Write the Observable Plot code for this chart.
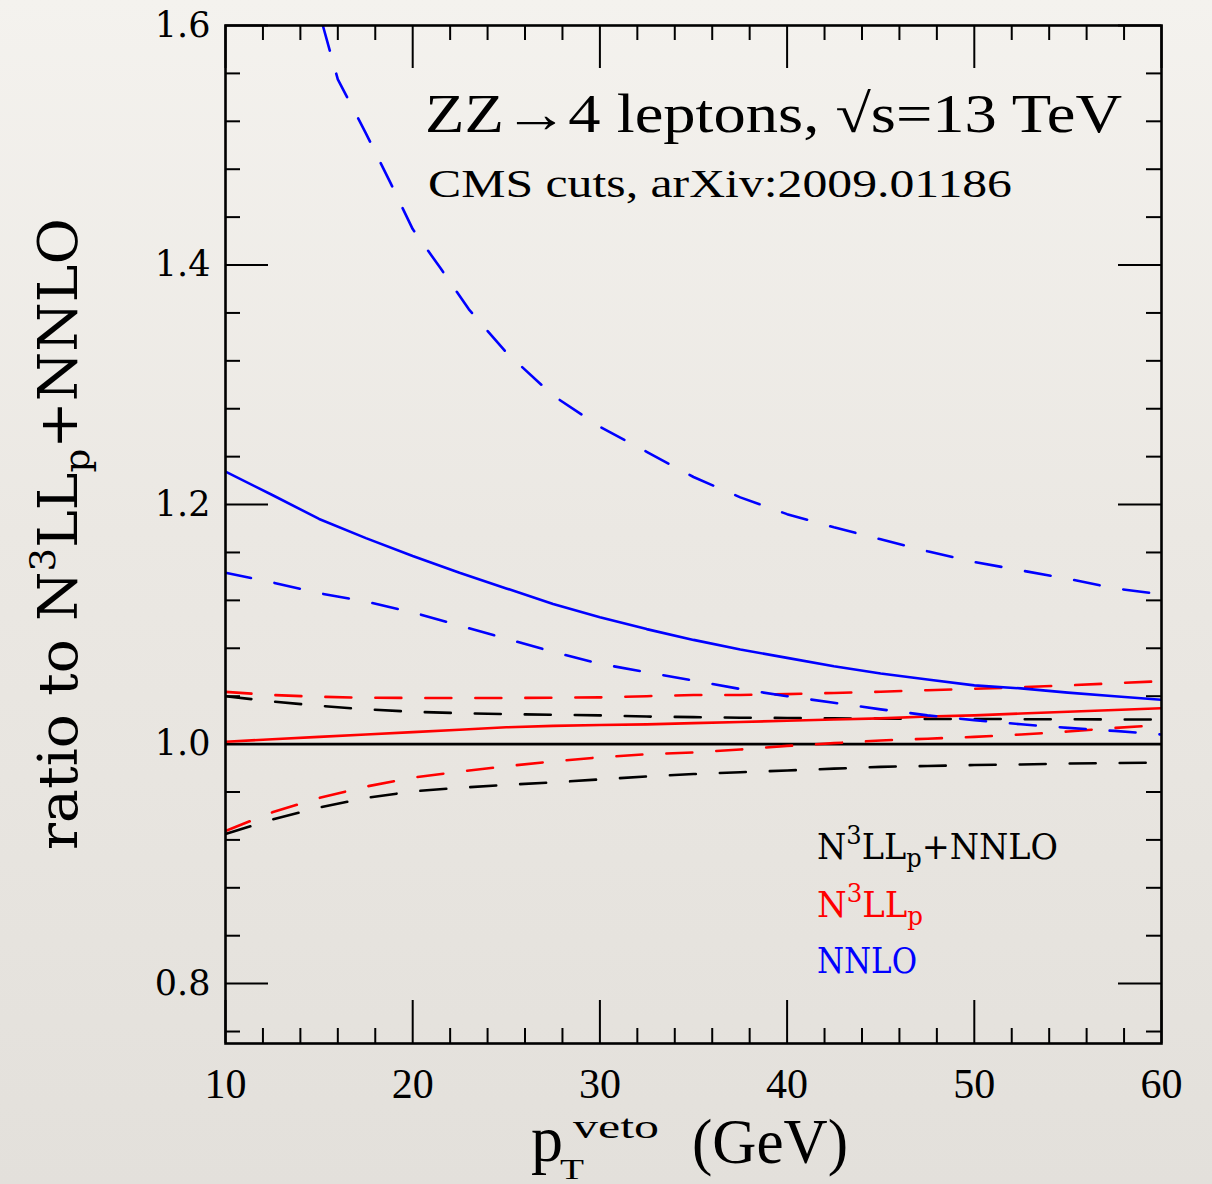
<!DOCTYPE html>
<html>
<head>
<meta charset="utf-8">
<script src="https://cdn.jsdelivr.net/npm/d3@7"></script>
<script src="https://cdn.jsdelivr.net/npm/@observablehq/plot@0.6"></script>
<style>
  html, body { margin: 0; padding: 0; }
  body { width: 1212px; height: 1184px; overflow: hidden;
         background: linear-gradient(to bottom, #f4f2ee 0%, #ebe8e3 45%, #e3e0db 100%); }
  #chart svg { display: block; }
</style>
</head>
<body>
<div id="chart"></div>
<script>
// ---------------- data ----------------
const xGrid = [10, 12.5, 15, 17.5, 20, 22.5, 25, 27.5, 30, 32.5, 35, 37.5, 40, 42.5, 45, 47.5, 50, 52.5, 55, 57.5, 60];

// N3LLp+NNLO (black): central = reference (ratio 1), band edges dashed
const combX = [10, 60];
const combCentral = [1.0, 1.0];
const combUp   = [1.040, 1.0355, 1.032, 1.029, 1.027, 1.0258, 1.025, 1.0245, 1.024, 1.023, 1.0225, 1.022, 1.0218, 1.0215, 1.0213, 1.021, 1.021, 1.0208, 1.0207, 1.0206, 1.0205];
const combDown = [0.925, 0.937, 0.947, 0.955, 0.9605, 0.9635, 0.966, 0.968, 0.9705, 0.973, 0.975, 0.9765, 0.978, 0.9795, 0.981, 0.9817, 0.9825, 0.983, 0.9838, 0.9842, 0.9845];

// N3LLp (red)
const resCentral = [1.002, 1.004, 1.006, 1.008, 1.010, 1.012, 1.014, 1.0152, 1.016, 1.0165, 1.0175, 1.0185, 1.0195, 1.0205, 1.0215, 1.023, 1.024, 1.0255, 1.027, 1.0285, 1.030];
const resUp      = [1.0436, 1.041, 1.0395, 1.0387, 1.0385, 1.0385, 1.0385, 1.0387, 1.039, 1.040, 1.041, 1.041, 1.0417, 1.0427, 1.0437, 1.045, 1.0462, 1.0475, 1.049, 1.0508, 1.0525];
const resDown    = [0.9275, 0.943, 0.955, 0.9645, 0.972, 0.977, 0.9815, 0.9855, 0.989, 0.9915, 0.993, 0.9955, 0.9985, 1.0008, 1.003, 1.0045, 1.006, 1.008, 1.0105, 1.0135, 1.016];

// NNLO (blue)
const nnloCentral = [1.2275, 1.208, 1.188, 1.172, 1.157, 1.143, 1.130, 1.117, 1.106, 1.096, 1.087, 1.079, 1.072, 1.065, 1.059, 1.054, 1.049, 1.0465, 1.043, 1.040, 1.037];
const nnloDown    = [1.143, 1.135, 1.126, 1.119, 1.110, 1.099, 1.088, 1.077, 1.067, 1.060, 1.053, 1.046, 1.040, 1.0345, 1.029, 1.024, 1.020, 1.0165, 1.0135, 1.011, 1.008];
const nnloUpX     = [15.2, 16, 17.5, 18.8, 20, 21.5, 23, 25, 27.5, 30, 32.5, 35, 37.5, 40, 42.5, 45, 47.5, 50, 52.5, 55, 57.5, 60];
const nnloUp      = [1.600, 1.555, 1.510, 1.469, 1.430, 1.397, 1.363, 1.327, 1.291, 1.265, 1.244, 1.223, 1.206, 1.192, 1.181, 1.171, 1.161, 1.152, 1.145, 1.138, 1.130, 1.125];

// axes
const xMajor = [10, 20, 30, 40, 50, 60];
const xMinor = [12, 14, 16, 18, 22, 24, 26, 28, 32, 34, 36, 38, 42, 44, 46, 48, 52, 54, 56, 58];
const yMajor = [0.8, 1.0, 1.2, 1.4, 1.6];
const yMinor = [0.76, 0.84, 0.88, 0.92, 0.96, 1.04, 1.08, 1.12, 1.16, 1.24, 1.28, 1.32, 1.36, 1.44, 1.48, 1.52, 1.56];

// texts
const titleText = "ZZ\u21924 leptons, \u221As=13 TeV";
const subtitleText = "CMS cuts, arXiv:2009.01186";
const legendNames = ["N3LLp+NNLO", "N3LLp", "NNLO"];
const legendColors = ["#000000", "#ff0000", "#0000ff"];

// ---------------- chart ----------------
const W = 1212, H = 1184, mL = 225, mR = 51, mT = 25, mB = 141;
const innerW = W - mL - mR, innerH = H - mT - mB;
const DASH = "26,24";

const curves = [
  {xs: combX,  ys: combCentral, color: legendColors[0], dash: null},
  {xs: xGrid,  ys: combUp,      color: legendColors[0], dash: DASH},
  {xs: xGrid,  ys: combDown,    color: legendColors[0], dash: DASH},
  {xs: xGrid,  ys: resCentral,  color: legendColors[1], dash: null},
  {xs: xGrid,  ys: resUp,       color: legendColors[1], dash: DASH},
  {xs: xGrid,  ys: resDown,     color: legendColors[1], dash: DASH},
  {xs: xGrid,  ys: nnloCentral, color: legendColors[2], dash: null},
  {xs: xGrid,  ys: nnloDown,    color: legendColors[2], dash: DASH},
  {xs: nnloUpX, ys: nnloUp,     color: legendColors[2], dash: DASH}
];

const lineMarks = curves.map(c => Plot.line(
  c.xs.map((x, i) => ({x, y: c.ys[i]})),
  {x: "x", y: "y", stroke: c.color, strokeWidth: 2.6, strokeDasharray: c.dash || undefined, curve: "linear", clip: true}
));

const tickStyle = {stroke: "#000", strokeWidth: 2};
const plot = Plot.plot({
  width: W, height: H,
  marginLeft: mL, marginRight: mR, marginTop: mT, marginBottom: mB,
  style: {background: "transparent", fontFamily: "'Liberation Serif', serif", color: "#000", overflow: "visible"},
  x: {domain: [10, 60]},
  y: {domain: [0.75, 1.6]},
  marks: [
    ...lineMarks,
    // bottom / top ticks (inward)
    Plot.tickX(xMajor, {x: d => d, insetTop: innerH - 43, ...tickStyle}),
    Plot.tickX(xMinor, {x: d => d, insetTop: innerH - 15, ...tickStyle}),
    Plot.tickX(xMajor, {x: d => d, insetBottom: innerH - 43, ...tickStyle}),
    Plot.tickX(xMinor, {x: d => d, insetBottom: innerH - 15, ...tickStyle}),
    // left / right ticks (inward)
    Plot.tickY(yMajor, {y: d => d, insetRight: innerW - 43, ...tickStyle}),
    Plot.tickY(yMinor, {y: d => d, insetRight: innerW - 15, ...tickStyle}),
    Plot.tickY(yMajor, {y: d => d, insetLeft: innerW - 43, ...tickStyle}),
    Plot.tickY(yMinor, {y: d => d, insetLeft: innerW - 15, ...tickStyle}),
    Plot.axisX({ticks: xMajor, tickSize: 0, tickPadding: 25, label: null, tickFormat: d => String(d),
                fontSize: 42, fontFamily: "'Liberation Serif', serif"}),
    Plot.axisY({ticks: yMajor, tickSize: 0, tickPadding: 15, label: null, tickFormat: d3.format(".1f"),
                fontSize: 35, fontFamily: "'DejaVu Serif', serif"}),
    Plot.frame({stroke: "#000", strokeWidth: 2.6})
  ]
});
document.getElementById("chart").appendChild(plot);

// ---------------- annotations ----------------
const svg = d3.select(plot);
const ann = svg.append("g").attr("text-anchor", "start").attr("fill", "#000");

ann.append("text")
  .attr("x", 425).attr("y", 132)
  .attr("font-family", "'Liberation Serif', serif").attr("font-size", 54)
  .attr("textLength", 697).attr("lengthAdjust", "spacingAndGlyphs")
  .text(titleText);

ann.append("text")
  .attr("x", 428).attr("y", 197)
  .attr("font-family", "'Liberation Serif', serif").attr("font-size", 41)
  .attr("textLength", 584).attr("lengthAdjust", "spacingAndGlyphs")
  .text(subtitleText);

// rich text helper: parts = [[text, kind]] kind: "n" normal, "sup", "sub"
function rich(sel, parts, size, small, supShift, subShift) {
  let level = 0;
  parts.forEach(([t, kind]) => {
    const target = kind === "sup" ? -supShift : kind === "sub" ? subShift : 0;
    sel.append("tspan")
      .attr("dy", target - level)
      .attr("font-size", kind === "n" ? size : small)
      .text(t);
    level = target;
  });
}

// legend
const legendParts = [
  [["N", "n"], ["3", "sup"], ["LL", "n"], ["p", "sub"], ["+NNLO", "n"]],
  [["N", "n"], ["3", "sup"], ["LL", "n"], ["p", "sub"]],
  [["NNLO", "n"]]
];
const legendY = [859, 917, 973];
const legendLen = [241, 106, 100];
legendNames.forEach((name, i) => {
  const t = ann.append("text")
    .attr("x", 817).attr("y", legendY[i])
    .attr("font-family", "'DejaVu Serif', serif")
    .attr("fill", legendColors[i])
    .attr("textLength", legendLen[i]).attr("lengthAdjust", "spacingAndGlyphs")
    .attr("aria-label", name);
  rich(t, legendParts[i], 36, 26, 15, 8);
});

// y-axis label
const yl = svg.append("text")
  .attr("transform", "translate(77,534) rotate(-90)")
  .attr("text-anchor", "middle")
  .attr("font-family", "'DejaVu Serif', serif")
  .attr("fill", "#000")
  .attr("textLength", 632).attr("lengthAdjust", "spacingAndGlyphs");
rich(yl, [["ratio to N", "n"], ["3", "sup"], ["LL", "n"], ["p", "sub"], ["+NNLO", "n"]], 55, 36, 22, 12);

// x-axis label
const xlFont = "'Liberation Serif', serif";
ann.append("text").attr("x", 531).attr("y", 1161).attr("font-family", xlFont)
  .attr("font-size", 66).attr("textLength", 32).attr("lengthAdjust", "spacingAndGlyphs").text("p");
ann.append("text").attr("x", 560).attr("y", 1179).attr("font-family", xlFont)
  .attr("font-size", 30).attr("textLength", 24).attr("lengthAdjust", "spacingAndGlyphs").text("T");
ann.append("text").attr("x", 573).attr("y", 1138).attr("font-family", xlFont)
  .attr("font-size", 34).attr("textLength", 86).attr("lengthAdjust", "spacingAndGlyphs").text("veto");
ann.append("text").attr("x", 692).attr("y", 1163).attr("font-family", xlFont)
  .attr("font-size", 64).attr("textLength", 156).attr("lengthAdjust", "spacingAndGlyphs").text("(GeV)");
</script>
</body>
</html>
